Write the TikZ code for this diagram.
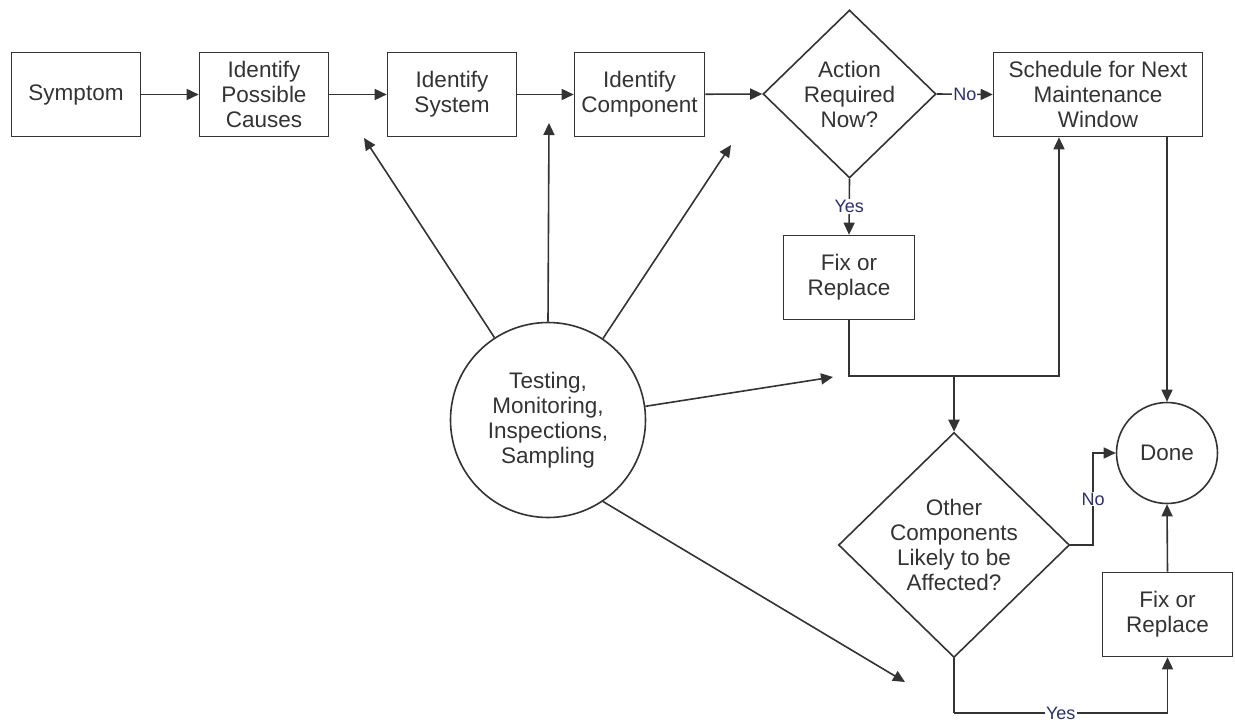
\documentclass[tikz,border=0pt]{standalone}
\usepackage{fontspec}
\setmainfont{Liberation Sans}
\usetikzlibrary{arrows.meta,shapes.geometric}
\definecolor{ink}{HTML}{333333}
\definecolor{lbl}{HTML}{2B2F6E}
\begin{document}
\begin{tikzpicture}[x=1pt,y=-1pt,
  every node/.style={font=\fontsize{22.5pt}{25pt}\selectfont, text=ink, align=center},
  box/.style={draw=ink, line width=1.6pt, rectangle, inner sep=0pt},
  dia/.style={draw=ink, line width=1.6pt, diamond, inner sep=0pt},
  circ/.style={draw=ink, line width=1.6pt, circle, inner sep=0pt},
  con/.style={draw=ink, line width=1.6pt, -{Triangle[length=12pt,width=11pt]}},
  thickcon/.style={con, line width=2.5pt},
  lab/.style={font=\fontsize{18pt}{20pt}\selectfont, text=lbl, fill=white, inner sep=1.2pt}]
\useasboundingbox[fill=white] (0,0) rectangle (1235,725);

% nodes
\node[box, minimum width=129pt, minimum height=84pt] (sym) at (76,94.5) {Symptom};
\node[box, minimum width=129pt, minimum height=84pt] (cau) at (264,94.5) {Identify\\Possible\\Causes};
\node[box, minimum width=129pt, minimum height=84pt] (sys) at (452,94.5) {Identify\\System};
\node[box, minimum width=130pt, minimum height=84pt] (comp) at (639.5,94.5) {Identify\\Component};
\node[dia, minimum width=173pt, minimum height=168pt] (d1) at (849.5,94) {Action\\Required\\Now?};
\node[box, minimum width=209pt, minimum height=84pt] (sch) at (1098,94.5) {Schedule for Next\\Maintenance\\Window};
\node[box, minimum width=131pt, minimum height=84pt] (fix1) at (849,277.5) {Fix or\\Replace};
\node[circ, minimum size=195pt] (tst) at (548,420) {Testing,\\Monitoring,\\Inspections,\\Sampling};
\node[dia, minimum width=231pt, minimum height=225pt] (d2) at (954,545) {Other\\Components\\Likely to be\\Affected?};
\node[circ, minimum size=101pt] (done) at (1167,453) {Done};
\node[box, minimum width=130pt, minimum height=84pt] (fix2) at (1167.5,614.5) {Fix or\\Replace};

% free ends and bends
\coordinate (tA) at (364,138);
\coordinate (tB) at (549,123);
\coordinate (tC) at (731,145);
\coordinate (tD) at (833,377);
\coordinate (tE) at (905,682);
\coordinate (bend) at (1059,376);
\coordinate (nb) at (1093,545);
\coordinate (yb) at (954,713);

% main row
\draw[con] (sym) -- (cau);
\draw[con] (cau) -- (sys);
\draw[con] (sys) -- (comp);
\draw[con] (comp) -- (d1.west);
\draw[con] (d1.east) -- node[lab]{No} (sch.west);
\draw[con] (d1.south) -- node[lab]{Yes} (fix1.north);

% fix1 to schedule and junction
\draw[con] (fix1.south) |- (bend) -- (bend |- sch.south);
\draw[thickcon] (d2.north |- bend) -- (d2.north);
\draw[con] (sch.south -| done.north) -- (done.north);

% second decision
\draw[con] (d2.east) -- (nb) -- node[lab]{No} (nb |- done.west) -- (done.west);
\draw[line width=2.5pt, draw=ink] (d2.south) -- (yb);
\draw[con] (yb) -- node[lab]{Yes} (yb -| fix2.south) -- (fix2.south);
\draw[con] (fix2.north) -- (done.south);

% testing arrows
\draw[con] (tst.123) -- (tA);
\draw[con] (tst.north) -- (tB);
\draw[con] (tst.56) -- (tC);
\draw[con] (tst.8) -- (tD);
\draw[con] (tst.-56) -- (tE);
\end{tikzpicture}
\end{document}
